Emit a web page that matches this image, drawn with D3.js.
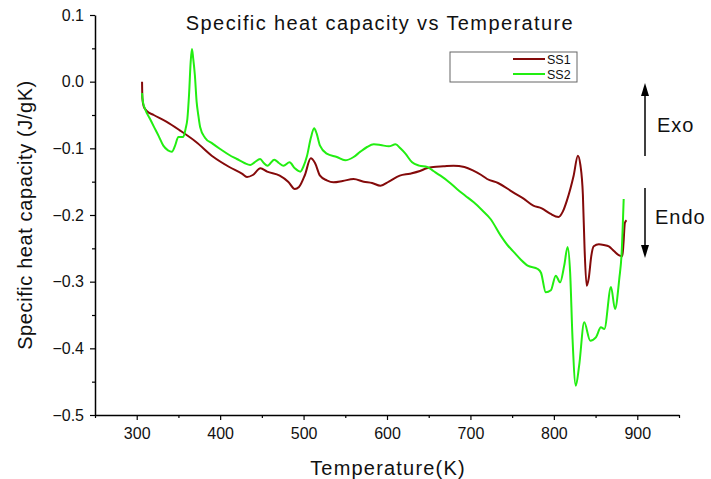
<!DOCTYPE html>
<html>
<head>
<meta charset="utf-8">
<script src="https://cdn.jsdelivr.net/npm/d3@7"></script>
<style>
  body { margin: 0; background: #fff; }
  text { font-family: "Liberation Sans", Arial, sans-serif; }
</style>
</head>
<body>
<div id="chart"></div>
<script>
// values
const seriesNames = ["SS1", "SS2"];

const ss1Temp = [306.4, 306.8, 308.4, 312, 320.4, 335.5, 351.6, 370.8, 392, 411, 426.1, 432.2, 439.2, 448.3, 456.3, 471.4, 481.5, 489.5, 494.5, 501.6, 508.6, 513.7, 519.7, 527.8, 535.8, 546.9, 560, 572.1, 582.1, 592.2, 602.2, 615.3, 627.4, 639.5, 647.5, 655.6, 667.6, 679.7, 692.8, 702.9, 713, 720, 733.1, 751.2, 763.3, 775.4, 785.5, 795.6, 805.6, 810.7, 815.7, 823.7, 828.8, 831.8, 834.8, 836.8, 839.3, 841.8, 844.8, 847.8, 853.9, 859.9, 865.9, 872, 879, 882.1, 883.6, 885.1, 887.1];
const ss1Val = [0.000, -0.025, -0.037, -0.044, -0.050, -0.060, -0.073, -0.090, -0.113, -0.128, -0.138, -0.143, -0.140, -0.130, -0.135, -0.141, -0.150, -0.161, -0.158, -0.140, -0.115, -0.122, -0.141, -0.148, -0.151, -0.149, -0.146, -0.150, -0.152, -0.156, -0.150, -0.141, -0.138, -0.134, -0.130, -0.128, -0.127, -0.126, -0.128, -0.133, -0.140, -0.146, -0.152, -0.166, -0.175, -0.186, -0.190, -0.198, -0.203, -0.195, -0.178, -0.141, -0.111, -0.125, -0.170, -0.250, -0.306, -0.295, -0.262, -0.247, -0.244, -0.245, -0.247, -0.254, -0.261, -0.262, -0.240, -0.212, -0.208];

const ss2Temp = [306.4, 307.4, 310, 316, 320.4, 326.5, 331.9, 337.5, 342.1, 346, 349.9, 355.7, 358.7, 360.7, 362.7, 364.7, 366.2, 367.7, 369.7, 371.8, 373.8, 376, 381.8, 390.9, 400, 411, 420.1, 429.1, 436, 441.2, 448, 452.3, 456.8, 464.9, 470.4, 476, 483.2, 489.5, 496.1, 499.6, 504, 508.6, 512.7, 515.7, 519.7, 527.8, 539.9, 549.9, 560, 568.1, 576.1, 584.2, 592.2, 602.2, 610.3, 616, 622.1, 630.1, 638.6, 648.2, 655.6, 664.1, 673.8, 683.8, 693.9, 704, 714.1, 724.1, 736.3, 744.3, 752.4, 760.5, 768.6, 780.7, 784.7, 790.3, 796.4, 802.3, 807.5, 812.4, 816.5, 819.5, 822.4, 826.3, 830.3, 836.4, 843.6, 850.4, 856.4, 860.5, 868.5, 873.3, 878.4, 881.3, 883.7];
const ss2Val = [-0.017, -0.030, -0.041, -0.056, -0.067, -0.082, -0.096, -0.103, -0.105, -0.096, -0.083, -0.083, -0.070, -0.056, -0.020, 0.030, 0.049, 0.035, 0.010, -0.030, -0.050, -0.068, -0.084, -0.093, -0.101, -0.110, -0.116, -0.122, -0.125, -0.121, -0.116, -0.122, -0.126, -0.117, -0.122, -0.126, -0.121, -0.130, -0.135, -0.128, -0.112, -0.085, -0.070, -0.078, -0.096, -0.108, -0.113, -0.118, -0.113, -0.105, -0.098, -0.094, -0.095, -0.097, -0.094, -0.100, -0.108, -0.121, -0.126, -0.128, -0.134, -0.141, -0.150, -0.161, -0.171, -0.181, -0.193, -0.206, -0.231, -0.245, -0.256, -0.267, -0.276, -0.281, -0.287, -0.316, -0.313, -0.291, -0.301, -0.276, -0.248, -0.286, -0.386, -0.456, -0.426, -0.361, -0.3885, -0.3835, -0.3685, -0.371, -0.308, -0.341, -0.296, -0.256, -0.176];

const xTicks = [300, 400, 500, 600, 700, 800, 900];
const xMinorTicks = [250, 350, 450, 550, 650, 750, 850, 950];
const yTicks = [-0.5, -0.4, -0.3, -0.2, -0.1, 0.0, 0.1];
const yMinorTicks = [-0.45, -0.35, -0.25, -0.15, -0.05, 0.05];

const width = 711, height = 479;
const margin = { top: 15, right: 32, bottom: 64, left: 95 };

const svg = d3.select("#chart").append("svg")
    .attr("width", width)
    .attr("height", height);

const x = d3.scaleLinear()
    .domain([250, 950])
    .range([margin.left, width - margin.right]);

const y = d3.scaleLinear()
    .domain([-0.5, 0.1])
    .range([height - margin.bottom, margin.top]);

// minor ticks first so the major axis draws on top
svg.append("g")
    .attr("transform", `translate(0,${height - margin.bottom})`)
    .call(d3.axisBottom(x).tickValues(xMinorTicks).tickSize(3).tickFormat(""))
    .call(g => g.select(".domain").remove())
    .selectAll("line").attr("stroke-width", 1.2);

svg.append("g")
    .attr("transform", `translate(${margin.left},0)`)
    .call(d3.axisLeft(y).tickValues(yMinorTicks).tickSize(3).tickFormat(""))
    .call(g => g.select(".domain").remove())
    .selectAll("line").attr("stroke-width", 1.2);

const xAxis = svg.append("g")
    .attr("transform", `translate(0,${height - margin.bottom})`)
    .call(d3.axisBottom(x).tickValues(xTicks).tickSize(5).tickSizeOuter(0).tickPadding(8));

const yAxis = svg.append("g")
    .attr("transform", `translate(${margin.left},0)`)
    .call(d3.axisLeft(y).tickValues(yTicks).tickSize(5).tickSizeOuter(0).tickPadding(6)
        .tickFormat(d3.format(".1f")));

[xAxis, yAxis].forEach(a => {
    a.select(".domain").attr("stroke-width", 1.5);
    a.selectAll(".tick line").attr("stroke-width", 1.2);
    a.selectAll("text")
        .style("font-size", "16px")
        .attr("fill", "#111");
});

// lines
const line = d3.line()
    .curve(d3.curveMonotoneX)
    .x(d => x(d[0]))
    .y(d => y(d[1]));

const ss1 = ss1Temp.map((t, i) => [t, ss1Val[i]]);
const ss2 = ss2Temp.map((t, i) => [t, ss2Val[i]]);

svg.append("path")
    .datum(ss1)
    .attr("fill", "none")
    .attr("stroke", "#840a0a")
    .attr("stroke-width", 2)
    .attr("stroke-linejoin", "round")
    .attr("d", line);

svg.append("path")
    .datum(ss2)
    .attr("fill", "none")
    .attr("stroke", "#22ee11")
    .attr("stroke-width", 2)
    .attr("stroke-linejoin", "round")
    .attr("d", line);

// title and axis labels
svg.append("text")
    .attr("x", 380)
    .attr("y", 30)
    .attr("text-anchor", "middle")
    .style("font-size", "20px")
    .style("letter-spacing", "1.4px")
    .attr("fill", "#111")
    .text("Specific heat capacity vs Temperature");

svg.append("text")
    .attr("x", 388)
    .attr("y", 475)
    .attr("text-anchor", "middle")
    .style("font-size", "20px")
    .style("letter-spacing", "1.2px")
    .attr("fill", "#111")
    .text("Temperature(K)");

svg.append("text")
    .attr("transform", "translate(32,215) rotate(-90)")
    .attr("text-anchor", "middle")
    .style("font-size", "20px")
    .style("letter-spacing", "0.6px")
    .attr("fill", "#111")
    .text("Specific heat capacity (J/gK)");

// legend
const legend = svg.append("g");
legend.append("rect")
    .attr("x", 450).attr("y", 52)
    .attr("width", 127).attr("height", 30)
    .attr("fill", "#fff")
    .attr("stroke", "#666")
    .attr("stroke-width", 1);

const legendColors = ["#840a0a", "#22ee11"];
seriesNames.forEach((name, i) => {
    const ly = 59 + i * 15;
    legend.append("line")
        .attr("x1", 513).attr("x2", 545)
        .attr("y1", ly).attr("y2", ly)
        .attr("stroke", legendColors[i])
        .attr("stroke-width", 2);
    legend.append("text")
        .attr("x", 547).attr("y", ly + 4.5)
        .style("font-size", "12.5px")
        .attr("fill", "#111")
        .text(name);
});

// exo / endo arrows
svg.append("line")
    .attr("x1", 645).attr("x2", 645)
    .attr("y1", 156).attr("y2", 90)
    .attr("stroke", "#000").attr("stroke-width", 1.5);
svg.append("path")
    .attr("d", "M645,83 L641,96 L649,96 Z")
    .attr("fill", "#000");

svg.append("line")
    .attr("x1", 645).attr("x2", 645)
    .attr("y1", 188).attr("y2", 250)
    .attr("stroke", "#000").attr("stroke-width", 1.5);
svg.append("path")
    .attr("d", "M645,258 L641,245 L649,245 Z")
    .attr("fill", "#000");

svg.append("text")
    .attr("x", 657).attr("y", 132)
    .style("font-size", "20px")
    .style("letter-spacing", "1px")
    .attr("fill", "#111")
    .text("Exo");

svg.append("text")
    .attr("x", 655).attr("y", 224)
    .style("font-size", "20px")
    .style("letter-spacing", "1px")
    .attr("fill", "#111")
    .text("Endo");
</script>
</body>
</html>
